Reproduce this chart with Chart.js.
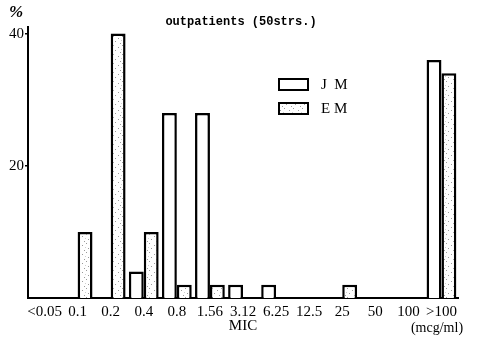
<!DOCTYPE html>
<html>
<head>
<meta charset="utf-8">
<script src="https://cdn.jsdelivr.net/npm/chart.js@4"></script>
<style>
  html, body { margin: 0; padding: 0; background: #fff; }
  #wrap { width: 487px; height: 337px; }
</style>
</head>
<body>
<div id="wrap"><canvas id="chart" width="487" height="337"></canvas></div>
<script>
// MIC bins (mcg/ml)
const micLabels = ['<0.05', '0.1', '0.2', '0.4', '0.8', '1.56', '3.12', '6.25', '12.5', '25', '50', '100', '>100'];
// % of strains (50 strs.)
const jmValues = [0, 0, 0, 4, 28, 28, 2, 2, 0, 0, 0, 0, 36];
const emValues = [0, 10, 40, 10, 2, 2, 0, 0, 0, 2, 0, 0, 34];
const yTickValues = [20, 40];

const serif = '"Liberation Serif", "DejaVu Serif", serif';

// stipple pattern for EM bars
function makeStipple() {
  const c = document.createElement('canvas');
  c.width = 9; c.height = 9;
  const g = c.getContext('2d');
  g.fillStyle = '#ffffff';
  g.fillRect(0, 0, 9, 9);
  g.fillStyle = '#9a9a9a';
  g.fillRect(1, 2, 1, 1);
  g.fillRect(5, 0, 1, 1);
  g.fillRect(7, 5, 1, 1);
  g.fillRect(3, 7, 1, 1);
  g.fillStyle = '#d0d0d0';
  g.fillRect(4, 4, 1, 1);
  return g.createPattern(c, 'repeat');
}

const ctx = document.getElementById('chart').getContext('2d');
const stipple = makeStipple();

const toBars = arr => arr.map(v => (v === 0 ? null : v));

// legend + extra labels drawn on top
const decorations = {
  id: 'decorations',
  afterDraw(chart) {
    const c = chart.ctx;
    const area = chart.chartArea;
    c.save();
    c.fillStyle = '#000';
    c.textBaseline = 'middle';

    c.font = 'bold italic 17px ' + serif;
    c.textAlign = 'left';
    c.fillText('%', 9, 13);

    c.font = 'bold 12px "Liberation Mono", monospace';
    c.textAlign = 'center';
    c.fillText('outpatients (50strs.)', 241, 22);

    // legend
    const items = [['J  M', '#ffffff'], ['E M', stipple]];
    items.forEach((it, i) => {
      const y = 79 + i * 24;
      c.fillStyle = it[1];
      c.fillRect(279, y, 29, 11);
      c.strokeStyle = '#000';
      c.lineWidth = 2;
      c.strokeRect(279, y, 29, 11);
      c.fillStyle = '#000';
      c.font = '15px ' + serif;
      c.textAlign = 'left';
      c.fillText(it[0], 321, y + 6);
    });

    c.font = '15px ' + serif;
    c.textAlign = 'center';
    c.fillText('MIC', (area.left + area.right) / 2, area.bottom + 28);
    c.font = '14px ' + serif;
    c.fillText('(mcg/ml)', 437, area.bottom + 30);
    c.restore();
  }
};

new Chart(ctx, {
  type: 'bar',
  data: {
    labels: micLabels,
    datasets: [
      {
        label: 'J M',
        data: toBars(jmValues),
        backgroundColor: '#ffffff',
        borderColor: '#000000',
        borderWidth: 2.5,
        borderSkipped: 'bottom',
      },
      {
        label: 'E M',
        data: toBars(emValues),
        backgroundColor: stipple,
        borderColor: '#000000',
        borderWidth: 2.5,
        borderSkipped: 'bottom',
      },
    ],
  },
  options: {
    responsive: false,
    animation: false,
    events: [],
    layout: { padding: { left: 0, right: 29, top: 27, bottom: 0 } },
    datasets: {
      bar: { categoryPercentage: 0.9, barPercentage: 1.0 },
    },
    scales: {
      x: {
        grid: { display: false },
        border: { display: true, color: '#000', width: 2 },
        ticks: {
          color: '#000',
          font: { family: serif, size: 15 },
          maxRotation: 0,
          autoSkip: false,
          padding: -3,
        },
        afterFit: scale => { scale.height = 39; },
      },
      y: {
        min: 0,
        max: 41,
        grid: { display: true, drawOnChartArea: false, color: '#000', tickLength: 3, lineWidth: 1.5 },
        border: { display: true, color: '#000', width: 2 },
        ticks: {
          color: '#000',
          font: { family: serif, size: 15 },
          padding: 1,
        },
        afterBuildTicks: scale => { scale.ticks = yTickValues.map(v => ({ value: v })); },
        afterFit: scale => { scale.width = 28; },
      },
    },
    plugins: {
      legend: { display: false },
      tooltip: { enabled: false },
    },
  },
  plugins: [decorations],
});
</script>
</body>
</html>
